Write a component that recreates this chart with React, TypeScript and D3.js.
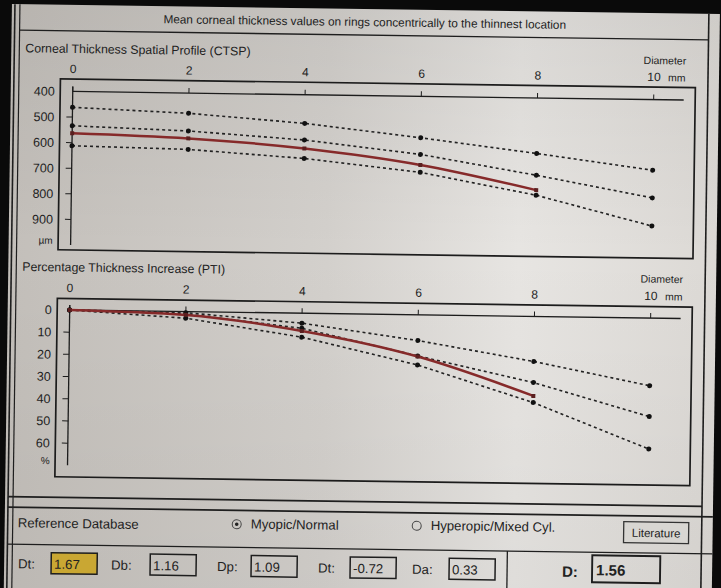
import React from "react";
import * as d3 from "d3";

// ring diameters (mm) where the values are sampled
const diameters = [0, 2, 4, 6, 8, 10];
const patientDiameters = [0, 2, 4, 6, 8];

// Corneal Thickness Spatial Profile (µm)
const ctspThin = [462, 479, 512, 562, 617, 676];
const ctspMean = [534, 548, 577, 627, 702, 784];
const ctspThick = [612, 620, 649, 697, 780, 894];
const ctspPatient = [563, 577, 610, 668, 760];

// Percentage Thickness Increase (%)
const ptiLow = [0, 0.5, 4.5, 11.6, 20.3, 30.5];
const ptiMean = [0, 1.1, 6.8, 18.5, 29.8, 44.4];
const ptiHigh = [0, 3, 10.8, 22.6, 38.8, 59];
const ptiPatient = [0, 1.5, 8, 18.8, 35.8];

const ctspTicks = [400, 500, 600, 700, 800, 900];
const ptiTicks = [0, 10, 20, 30, 40, 50, 60];
const xTicks = [0, 2, 4, 6, 8];

// bottom panel readouts
const dLabels = ["Dt:", "Db:", "Dp:", "Dt:", "Da:"];
const dValues = ["1.67", "1.16", "1.09", "-0.72", "0.33"];
const dTotal = "1.56";

const W = 721;
const H = 588;
const FONT = "'Liberation Sans', Arial, sans-serif";
const INK = "#222";
const RED = "#862a2a";

type Pt = [number, number];

const Chart = ({ top, yScale, yTicks, unit, title, series, patient }: any) => {
  const x = d3.scaleLinear().domain([0, 10]).range([70, 651]);
  const line = d3.line<Pt>().x((d) => x(d[0])).y((d) => yScale(d[1]));
  const redLine = d3.line<Pt>().x((d) => x(d[0])).y((d) => yScale(d[1])).curve(d3.curveMonotoneX);
  const axisY = yScale(yTicks[0]);
  const boxTop = top.box[0];
  const boxBottom = top.box[1];
  const unitY = yScale(yTicks[yTicks.length - 1] + (yTicks[1] - yTicks[0]));
  return (
    <g fontFamily={FONT} fill={INK}>
      <text x={22} y={top.title} fontSize={12.3}>{title}</text>
      <text x={683} y={top.title + 3} fontSize={10.5} textAnchor="end">Diameter</text>
      {xTicks.map((t) => (
        <text key={t} x={x(t)} y={top.labels} fontSize={12} textAnchor="middle">{t}</text>
      ))}
      <text x={x(10)} y={top.labels} fontSize={12} textAnchor="middle">10</text>
      <text x={x(10) + 14} y={top.labels} fontSize={10.5}>mm</text>
      <rect x={57.5} y={boxTop} width={635} height={boxBottom - boxTop} fill="none" stroke="#1c1c1c" strokeWidth={1.7} />
      {/* axes */}
      <line x1={x(0)} x2={681} y1={axisY} y2={axisY} stroke="#1c1c1c" strokeWidth={1.3} />
      <line x1={x(0)} x2={x(0)} y1={axisY - 5} y2={unitY} stroke="#1c1c1c" strokeWidth={1.3} />
      {diameters.map((t) => (
        <line key={t} x1={x(t)} x2={x(t)} y1={axisY} y2={axisY - 5} stroke="#1c1c1c" strokeWidth={1} />
      ))}
      {yTicks.map((t: number, i: number) => (
        <g key={t}>
          {i > 0 && <line x1={x(0) - 6} x2={x(0)} y1={yScale(t)} y2={yScale(t)} stroke="#1c1c1c" strokeWidth={1} />}
          <text x={52} y={yScale(t) + 4.5} fontSize={12.5} textAnchor="end">{t}</text>
        </g>
      ))}
      <text x={52} y={unitY - 1} fontSize={10} textAnchor="end">{unit}</text>
      {/* reference curves */}
      {series.map((vals: number[], i: number) => {
        const pts: Pt[] = diameters.map((d, j) => [d, vals[j]]);
        return (
          <g key={i}>
            <path d={line(pts) || ""} fill="none" stroke="#222" strokeWidth={1.6} strokeDasharray="3 3" />
            {pts.map((p, j) => (
              <circle key={j} cx={x(p[0])} cy={yScale(p[1])} r={2.5} fill="#111" />
            ))}
          </g>
        );
      })}
      {/* patient curve */}
      {(() => {
        const pts: Pt[] = patientDiameters.map((d, j) => [d, patient[j]]);
        return (
          <g>
            <path d={redLine(pts) || ""} fill="none" stroke={RED} strokeWidth={2.5} />
            {pts.map((p, j) => (
              <rect key={j} x={x(p[0]) - 2} y={yScale(p[1]) - 2} width={4} height={4} fill="#5a1f1f" />
            ))}
          </g>
        );
      })()}
    </g>
  );
};

export default function App() {
  const yCtsp = d3.scaleLinear().domain([400, 900]).range([95.5, 223.5]);
  const yPti = d3.scaleLinear().domain([0, 60]).range([314, 447.2]);

  const boxX = [55, 154, 255, 354, 453];
  const labelX = [22, 115, 221, 322, 416];

  return (
    <svg width={W} height={H} style={{ position: "absolute", left: 0, top: 0 }}>
      <defs>
        <linearGradient id="paper" x1="0" x2="1" y1="0" y2="0">
          <stop offset="0%" stopColor="#c3bfba" />
          <stop offset="45%" stopColor="#d3d0cc" />
          <stop offset="72%" stopColor="#e7e5e2" />
          <stop offset="100%" stopColor="#dcd9d5" />
        </linearGradient>
        <linearGradient id="shade" x1="0" x2="0" y1="0" y2="1">
          <stop offset="0%" stopColor="#000" stopOpacity={0.06} />
          <stop offset="40%" stopColor="#000" stopOpacity={0} />
          <stop offset="100%" stopColor="#000" stopOpacity={0.04} />
        </linearGradient>
      </defs>
      <rect width={W} height={H} fill="#0a0a0a" />
      <g transform="rotate(0.8 360 290)">
        <rect x={8} y={9} width={708} height={600} fill="url(#paper)" />
        <rect x={8} y={9} width={708} height={600} fill="url(#shade)" />
        {/* frame */}
        <g stroke="#1e1e1e" fill="none">
          <line x1={11} x2={11} y1={9} y2={600} strokeWidth={1.6} />
          <line x1={16} x2={16} y1={9} y2={600} strokeWidth={1.2} />
          <line x1={705} x2={705} y1={9} y2={600} strokeWidth={1.6} />
          <line x1={16} x2={705} y1={35} y2={35} strokeWidth={1.3} />
          <line x1={11} x2={705} y1={501.5} y2={501.5} strokeWidth={1.7} />
          <line x1={11} x2={716} y1={512} y2={512} strokeWidth={1.7} />
          <line x1={11} x2={716} y1={549} y2={549} strokeWidth={1.3} />
          <line x1={511} x2={511} y1={549} y2={600} strokeWidth={1.3} />
        </g>
        <text x={361} y={26} fontFamily={FONT} fontSize={11.8} fill={INK} textAnchor="middle">
          Mean corneal thickness values on rings concentrically to the thinnest location
        </text>

        <Chart
          top={{ title: 57, labels: 77, box: [83, 254] }}
          yScale={yCtsp}
          yTicks={ctspTicks}
          unit="µm"
          title="Corneal Thickness Spatial Profile (CTSP)"
          series={[ctspThin, ctspMean, ctspThick]}
          patient={ctspPatient}
        />
        <Chart
          top={{ title: 275.5, labels: 296, box: [302.5, 481] }}
          yScale={yPti}
          yTicks={ptiTicks}
          unit="%"
          title="Percentage Thickness Increase (PTI)"
          series={[ptiLow, ptiMean, ptiHigh]}
          patient={ptiPatient}
        />

        {/* reference database panel */}
        <g fontFamily={FONT} fontSize={13.2} fill={INK}>
          <text x={21} y={532}>Reference Database</text>
          <circle cx={240} cy={526} r={4.5} fill="none" stroke="#444" strokeWidth={1} />
          <circle cx={240} cy={526} r={1.8} fill="#222" />
          <text x={254} y={530}>Myopic/Normal</text>
          <circle cx={420} cy={525} r={4.5} fill="none" stroke="#444" strokeWidth={1} />
          <text x={434} y={529}>Hyperopic/Mixed Cyl.</text>
          <rect x={627} y={518} width={65} height={21} fill="#d8d6d2" stroke="#333" strokeWidth={1.3} />
          <text x={659.5} y={533} fontSize={11.5} textAnchor="middle">Literature</text>

          {dLabels.map((l, i) => (
            <g key={i}>
              <text x={labelX[i]} y={573}>{l}</text>
              <rect
                x={boxX[i]}
                y={557}
                width={46}
                height={21}
                fill={i === 0 ? "#c9a733" : "none"}
                stroke="#1e1e1e"
                strokeWidth={1.5}
              />
              <text x={boxX[i] + 3} y={573}>{dValues[i]}</text>
            </g>
          ))}
          <text x={566} y={574} fontSize={15} fontWeight="bold">D:</text>
          <rect x={596} y={552} width={68} height={27} fill="none" stroke="#1e1e1e" strokeWidth={1.9} />
          <text x={600} y={572} fontSize={15} fontWeight="bold">{dTotal}</text>
        </g>
      </g>
    </svg>
  );
}
